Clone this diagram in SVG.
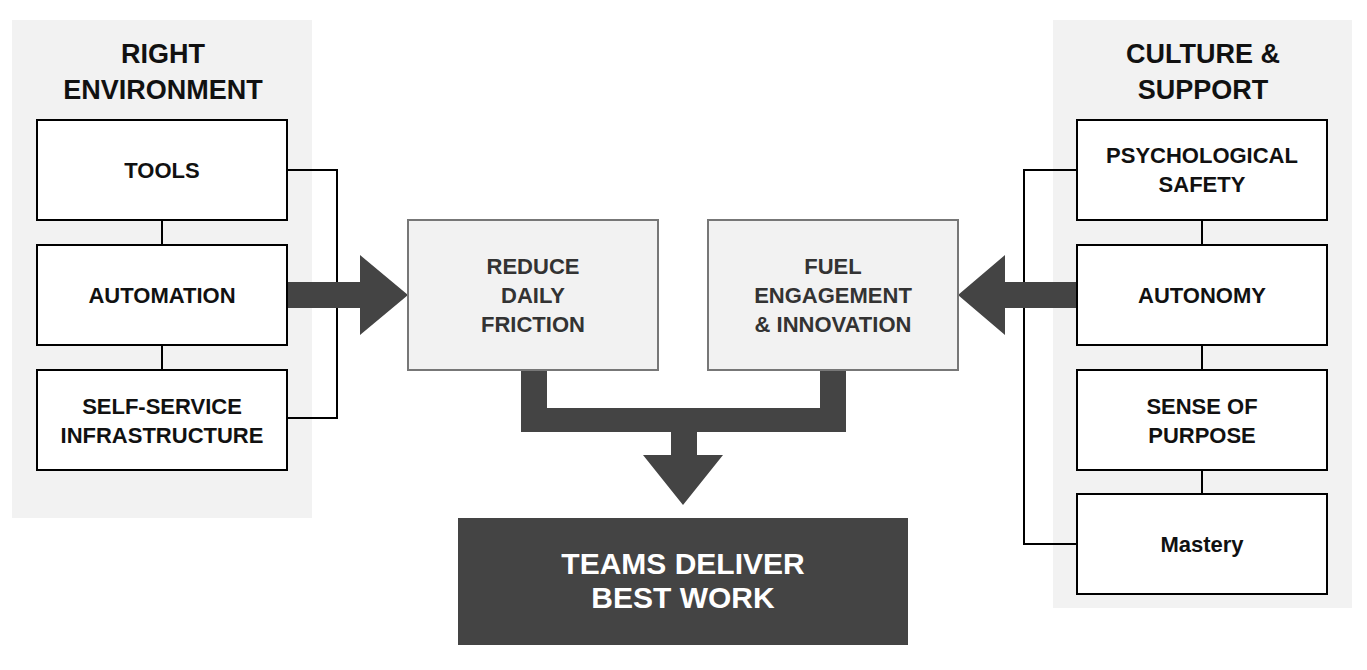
<svg xmlns="http://www.w3.org/2000/svg" width="1367" height="670" viewBox="0 0 1367 670">
<style>
.panel{fill:#f2f2f2}
.box{fill:#fff;stroke:#000;stroke-width:2}
.mid{fill:#f2f2f2;stroke:#777;stroke-width:2}
.t{font-family:"Liberation Sans",Arial,sans-serif;font-weight:bold;font-size:22px;fill:#111;text-anchor:middle}
.h{font-family:"Liberation Sans",Arial,sans-serif;font-weight:bold;font-size:27px;fill:#111;text-anchor:middle}
.m{font-family:"Liberation Sans",Arial,sans-serif;font-weight:bold;font-size:22px;fill:#333;text-anchor:middle}
.w{font-family:"Liberation Sans",Arial,sans-serif;font-weight:bold;font-size:30px;fill:#fff;text-anchor:middle}
.ln{fill:none;stroke:#000;stroke-width:2}
.dk{fill:#444}
</style>
<rect class="panel" x="12" y="20" width="300" height="498"/>
<rect class="panel" x="1053" y="20" width="299" height="588"/>
<text class="h" x="163" y="63">RIGHT</text>
<text class="h" x="163" y="99">ENVIRONMENT</text>
<text class="h" x="1203" y="63">CULTURE &amp;</text>
<text class="h" x="1203" y="99">SUPPORT</text>
<g id="connectors">
<path class="ln" d="M162 220V245M162 345V370M287 170H337V418H287"/>
<path class="ln" d="M1202 220V245M1202 345V370M1202 470V494M1077 170H1024V544H1077"/>
<path class="dk" d="M287 282H360V255L408 295L360 335V308H287Z"/>
<path class="dk" d="M1077 282H1005V255L958 295L1005 335V308H1077Z"/>
<path class="dk" d="M521 370H547V408H820V370H846V432H697V455H723L683 505L643 455H671V432H521Z"/>
</g>
<g id="tools"><rect class="box" x="37" y="120" width="250" height="100"/><text class="t" x="162" y="178">TOOLS</text></g>
<g id="automation"><rect class="box" x="37" y="245" width="250" height="100"/><text class="t" x="162" y="303">AUTOMATION</text></g>
<g id="selfservice"><rect class="box" x="37" y="370" width="250" height="100"/><text class="t" x="162" y="414">SELF-SERVICE</text><text class="t" x="162" y="443">INFRASTRUCTURE</text></g>
<g id="psych"><rect class="box" x="1077" y="120" width="250" height="100"/><text class="t" x="1202" y="163">PSYCHOLOGICAL</text><text class="t" x="1202" y="192">SAFETY</text></g>
<g id="autonomy"><rect class="box" x="1077" y="245" width="250" height="100"/><text class="t" x="1202" y="303">AUTONOMY</text></g>
<g id="purpose"><rect class="box" x="1077" y="370" width="250" height="100"/><text class="t" x="1202" y="414">SENSE OF</text><text class="t" x="1202" y="443">PURPOSE</text></g>
<g id="mastery"><rect class="box" x="1077" y="494" width="250" height="100"/><text class="t" x="1202" y="552">Mastery</text></g>
<g id="reduce"><rect class="mid" x="408" y="220" width="250" height="150"/><text class="m" x="533" y="274">REDUCE</text><text class="m" x="533" y="303">DAILY</text><text class="m" x="533" y="332">FRICTION</text></g>
<g id="fuel"><rect class="mid" x="708" y="220" width="250" height="150"/><text class="m" x="833" y="274">FUEL</text><text class="m" x="833" y="303">ENGAGEMENT</text><text class="m" x="833" y="332">&amp; INNOVATION</text></g>
<g id="teams"><rect class="dk" x="458" y="518" width="450" height="127"/><text class="w" x="683" y="574">TEAMS DELIVER</text><text class="w" x="683" y="608">BEST WORK</text></g>
</svg>
